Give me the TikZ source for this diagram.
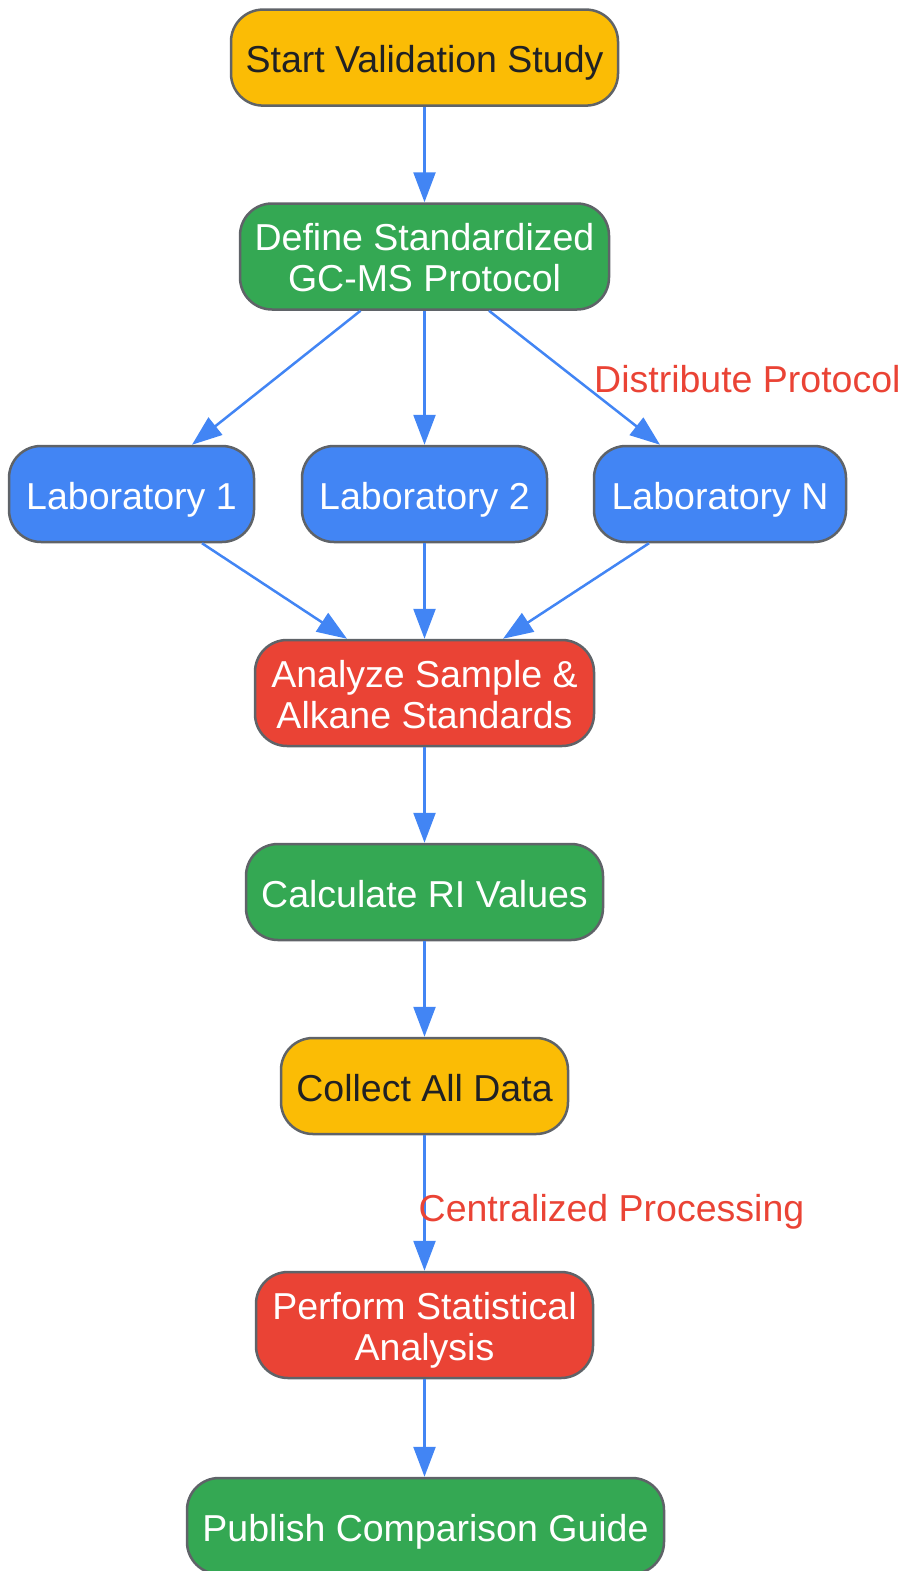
\documentclass[tikz,border=0pt]{standalone}
\usepackage{fontspec}
\setmainfont{Liberation Sans}
\usetikzlibrary{arrows.meta}
\definecolor{gyellow}{HTML}{FBBC05}
\definecolor{ggreen}{HTML}{34A853}
\definecolor{gblue}{HTML}{4285F4}
\definecolor{gred}{HTML}{EA4335}
\definecolor{gborder}{HTML}{5F6368}
\definecolor{gdark}{HTML}{202124}
\newcommand{\twoline}[2]{\begin{tabular}[b]{@{}c@{}}#1\\#2\end{tabular}}
\tikzset{
  box/.style={draw=gborder, line width=2.5pt, rounded corners=32pt,
    inner sep=0pt, font=\fontsize{37.5}{41}\selectfont,
    text height=30.4pt, text depth=0pt},
  tall/.style={text height=70.4pt, text depth=0pt, minimum height=106pt},
  ybox/.style={box, fill=gyellow, text=gdark},
  gbox/.style={box, fill=ggreen, text=white},
  bbox/.style={box, fill=gblue, text=white},
  rbox/.style={box, fill=gred, text=white},
  conn/.style={draw=gblue, line width=2.5pt, -{Triangle[length=30pt,width=22pt]}},
  elabel/.style={text=gred, font=\fontsize{37.5}{41}\selectfont, inner sep=0pt, anchor=base west}
}
\begin{document}
\begin{tikzpicture}[x=1pt,y=-1pt]
\useasboundingbox (0,0) rectangle (902,1571);
\node[ybox, minimum width=387pt, minimum height=96pt] (start) at (424.5,57.6) {Start Validation Study};
\node[gbox, tall, minimum width=369pt] (define) at (424.5,256.5) {\twoline{Define Standardized}{GC-MS Protocol}};
\node[bbox, minimum width=245pt, minimum height=96pt] (lab1) at (131.5,494) {Laboratory 1};
\node[bbox, minimum width=245pt, minimum height=96pt] (lab2) at (424.5,494) {Laboratory 2};
\node[bbox, minimum width=252pt, minimum height=96pt] (labn) at (720,494) {Laboratory N};
\node[rbox, tall, minimum width=339pt] (analyze) at (424.5,693) {\twoline{Analyze Sample \&}{Alkane Standards}};
\node[gbox, minimum width=357pt, minimum height=96pt] (calc) at (424.5,892) {Calculate RI Values};
\node[ybox, minimum width=287pt, minimum height=96pt] (collect) at (424.5,1086) {Collect All Data};
\node[rbox, tall, minimum width=337pt] (perform) at (424.5,1325) {\twoline{Perform Statistical}{Analysis}};
\node[gbox, minimum width=477pt, minimum height=96pt] (publish) at (425.5,1526) {Publish Comparison Guide};

\draw[conn] (start) -- (define);
\draw[conn] ([xshift=-64pt]define.south) -- ([xshift=60.5pt]lab1.north);
\draw[conn] (define) -- (lab2);
\draw[conn] ([xshift=64.5pt]define.south) -- ([xshift=-60pt]labn.north);
\node[elabel] (distlbl) at (594,392.7) {Distribute Protocol};
\draw[conn] ([xshift=70.5pt]lab1.south) -- ([xshift=-77.5pt]analyze.north);
\draw[conn] (lab2) -- (analyze);
\draw[conn] ([xshift=-71pt]labn.south) -- ([xshift=78.5pt]analyze.north);
\draw[conn] (analyze) -- (calc);
\draw[conn] (calc) -- (collect);
\draw[conn] (collect) -- (perform);
\node[elabel] (centlbl) at (418.5,1221.7) {Centralized Processing};
\draw[conn] (perform.south) -- (perform.south |- publish.north);
\end{tikzpicture}
\end{document}
